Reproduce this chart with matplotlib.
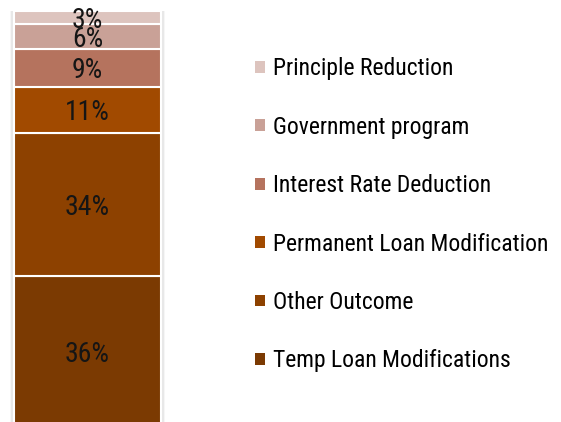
import matplotlib
matplotlib.use('Agg')
import matplotlib.pyplot as plt
from matplotlib.patches import Patch

plt.rcParams['font.family'] = ['Roboto Condensed', 'DejaVu Sans']

categories = ['Temp Loan Modifications', 'Other Outcome', 'Permanent Loan Modification',
              'Interest Rate Deduction', 'Government program', 'Principle Reduction']
values = [36, 34, 11, 9, 6, 3]
colors = ['#7b3a02', '#8d4100', '#a14a00', '#b5735e', '#c9a197', '#ddc4be']

fig = plt.figure(figsize=(5.61, 4.22), dpi=100)
# bar spans x 14..161 px, xlim padded by 0.05 on each side for the soft shadow
ax = fig.add_axes([(14 - 7.35) / 561, 0, 161.7 / 561, 411 / 422])

total = sum(values)
# soft shadow behind the column
for w, a in [(1.06, 0.15), (1.035, 0.3)]:
    ax.bar(0, total, width=w, color='#c8c8c8', alpha=a, linewidth=0, zorder=0)

bottom = 0
for cat, v, c in zip(categories, values, colors):
    ax.bar(0, v, width=1, bottom=bottom, color=c, edgecolor='white', linewidth=1.5,
           label=cat, zorder=2)
    ax.text(0, bottom + v / 2, f'{v}%', ha='center', va='center_baseline', fontsize=20,
            color='#151515', zorder=3)
    bottom += v

ax.set_xlim(-0.55, 0.55)
ax.set_ylim(1.2, total)
ax.axis('off')

handles = [Patch(facecolor=c, edgecolor='none') for c in colors][::-1]
fig.legend(handles, categories[::-1], loc='center left', bbox_to_anchor=(234 / 561, 0.491),
           frameon=False, fontsize=17, handlelength=0.4, handleheight=0.4,
           handletextpad=0.35, labelspacing=1.5)

fig.savefig('out.png', dpi=100)
